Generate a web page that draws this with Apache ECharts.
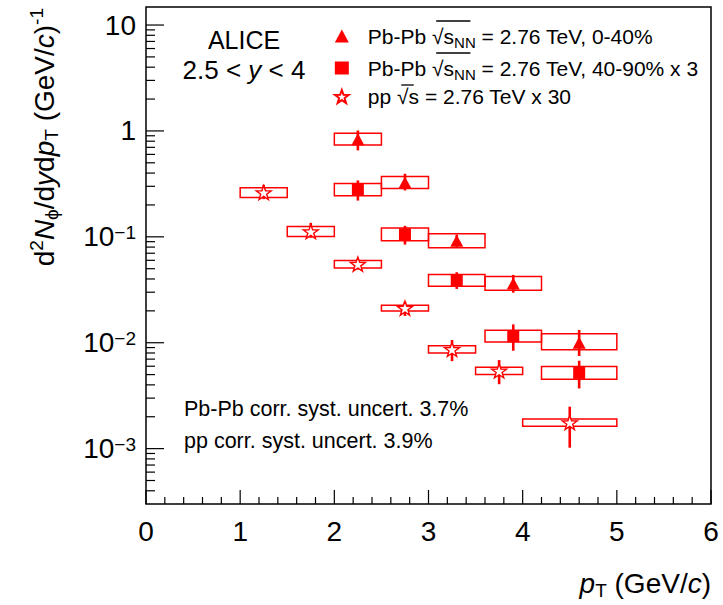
<!DOCTYPE html>
<html><head><meta charset="utf-8">
<script src="https://cdn.jsdelivr.net/npm/echarts/dist/echarts.min.js"></script>
<style>html,body{margin:0;padding:0;background:#fff}#c{width:723px;height:605px}</style>
</head><body><div id="c"></div>
<script>
// ---------------- data ----------------
// Pb-Pb pT bins
const pbX     = [2.25, 2.75, 3.3, 3.9, 4.6];
const pbBinLo = [2.0, 2.5, 3.0, 3.6, 4.2];
const pbBinHi = [2.5, 3.0, 3.6, 4.2, 5.0];
// Pb-Pb 0-40%
const cenVal    = [0.836, 0.326, 0.0917, 0.0363, 0.0100];
const cenStatLo = [0.655, 0.274, 0.0785, 0.0297, 0.0075];
const cenStatHi = [1.01, 0.394, 0.105, 0.0437, 0.0132];
const cenSysLo  = [0.737, 0.286, 0.0787, 0.0313, 0.00859];
const cenSysHi  = [0.95, 0.372, 0.107, 0.0421, 0.01217];
// Pb-Pb 40-90% x 3
const perVal    = [0.28, 0.1057, 0.0388, 0.0115, 0.00519];
const perStatLo = [0.22, 0.0845, 0.0322, 0.0084, 0.0037];
const perStatHi = [0.341, 0.127, 0.0463, 0.0149, 0.00676];
const perSysLo  = [0.244, 0.0917, 0.0342, 0.01016, 0.00451];
const perSysHi  = [0.319, 0.121, 0.044, 0.01312, 0.00598];
// pp x 30
const ppX     = [1.25, 1.75, 2.25, 2.75, 3.25, 3.75, 4.5];
const ppBinLo = [1.0, 1.5, 2.0, 2.5, 3.0, 3.5, 4.0];
const ppBinHi = [1.5, 2.0, 2.5, 3.0, 3.5, 4.0, 5.0];
const ppVal    = [0.262, 0.112, 0.0552, 0.0212, 0.00865, 0.00542, 0.00176];
const ppStatLo = [0.227, 0.098, 0.049, 0.0179, 0.0067, 0.00406, 0.00102];
const ppStatHi = [0.31, 0.1355, 0.062, 0.0244, 0.0106, 0.00686, 0.00249];
const ppSysLo  = [0.235, 0.1007, 0.0509, 0.01995, 0.008, 0.00501, 0.00163];
const ppSysHi  = [0.291, 0.125, 0.0597, 0.0226, 0.00937, 0.00587, 0.0019];
// axes
const X_MIN = 0, X_MAX = 6, Y_MIN = 3.0e-4, Y_MAX = 14.8;
const xMajorTicks = [0, 1, 2, 3, 4, 5, 6];
const xMinorTicks = [0.2,0.4,0.6,0.8,1.2,1.4,1.6,1.8,2.2,2.4,2.6,2.8,3.2,3.4,3.6,3.8,4.2,4.4,4.6,4.8,5.2,5.4,5.6,5.8];
const yMajorTicks = [0.001, 0.01, 0.1, 1, 10];
const yMinorTicks = [4e-4,5e-4,6e-4,7e-4,8e-4,9e-4,
  0.002,0.003,0.004,0.005,0.006,0.007,0.008,0.009,
  0.02,0.03,0.04,0.05,0.06,0.07,0.08,0.09,
  0.2,0.3,0.4,0.5,0.6,0.7,0.8,0.9,
  2,3,4,5,6,7,8,9];
const seriesNames = ['cen', 'per', 'pp'];
const legendPrefix = { cen: 'Pb-Pb ', per: 'Pb-Pb ', pp: 'pp ' };
const legendSub    = { cen: 'NN', per: 'NN', pp: '' };
const legendSuffix = { cen: ' = 2.76 TeV, 0-40%', per: ' = 2.76 TeV, 40-90% x 3', pp: ' = 2.76 TeV x 30' };

// ---------------- helpers ----------------
const FONT = '"Liberation Sans", Arial, Helvetica, sans-serif';
const RED = '#ff0000';
const STAR = 'path://M50,0 L61.8,33.8 L97.6,34.5 L69,56.2 L79.4,90.5 L50,70 L20.6,90.5 L31,56.2 L2.4,34.5 L38.2,33.8 Z';
const LEG_FS = 21, LEG_SUB_FS = 15, LEG_LEFT = 329, LEG_TOP = 17, LEG_ROW = 28, LEG_GAP = 4, LEG_ICON = 14, LEG_PAD = 14;

function legendLabel(name) {
  let s = '{t|' + legendPrefix[name] + '}{t|√}{t|s}';
  if (legendSub[name]) s += '{n|' + legendSub[name] + '}';
  return s + '{t|' + legendSuffix[name] + '}';
}
const measureCtx = document.createElement('canvas').getContext('2d');
function tw(txt, size) { measureCtx.font = size + 'px "Liberation Sans"'; return measureCtx.measureText(txt).width; }

function boxData(lo, hi, sLo, sHi) { return lo.map((v, i) => [v, hi[i], sLo[i], sHi[i]]); }
function errData(x, lo, hi) { return x.map((v, i) => [v, lo[i], hi[i]]); }
function ptData(x, y) { return x.map((v, i) => [v, y[i]]); }

function boxItem(params, api) {
  const p1 = api.coord([api.value(0), api.value(3)]);
  const p2 = api.coord([api.value(1), api.value(2)]);
  return { type: 'rect', shape: { x: p1[0], y: p1[1], width: p2[0] - p1[0], height: p2[1] - p1[1] },
           style: { fill: 'none', stroke: RED, lineWidth: 1.5 } };
}
function errItem(params, api) {
  const a = api.coord([api.value(0), api.value(1)]);
  const b = api.coord([api.value(0), api.value(2)]);
  return { type: 'line', shape: { x1: a[0], y1: a[1], x2: b[0], y2: b[1] },
           style: { stroke: RED, lineWidth: 2.6 } };
}
function xTickItem(len) {
  return function (params, api) {
    const p = api.coord([api.value(0), Y_MIN]);
    return { type: 'line', shape: { x1: p[0], y1: p[1], x2: p[0], y2: p[1] - len }, style: { stroke: '#000', lineWidth: 1.2 } };
  };
}
function yTickItem(len) {
  return function (params, api) {
    const p = api.coord([X_MIN, api.value(1)]);
    return { type: 'line', shape: { x1: p[0], y1: p[1], x2: p[0] + len, y2: p[1] }, style: { stroke: '#000', lineWidth: 1.2 } };
  };
}
function custom(name, data, renderItem, encode, z) {
  return { type: 'custom', name: name, data: data, renderItem: renderItem, encode: encode, z: z, silent: true, clip: false };
}

// overlines of the square roots in the legend
const overlines = seriesNames.map(function (name, i) {
  const cy = LEG_TOP + LEG_ROW / 2 + i * (LEG_ROW + LEG_GAP);
  const x0 = LEG_LEFT + LEG_ICON + 5 + LEG_PAD + tw(legendPrefix[name], LEG_FS) + tw('√', LEG_FS);
  const x2 = x0 + tw('s', LEG_FS) + (legendSub[name] ? tw(legendSub[name], LEG_SUB_FS) : 0) + 0.5;
  return { type: 'line', shape: { x1: x0 - 1.5, y1: cy - 10, x2: x2, y2: cy - 10 }, style: { stroke: '#000', lineWidth: 1.3 }, z: 10 };
});

const chart = echarts.init(document.getElementById('c'), null, { renderer: 'svg' });

const option = {
  backgroundColor: '#fff',
  animation: false,
  textStyle: { fontFamily: FONT },
  grid: { left: 146, top: 7, width: 565, height: 497, show: true, borderColor: '#000', borderWidth: 1.5,
          backgroundColor: 'transparent', containLabel: false, outerBoundsMode: 'none' },
  xAxis: {
    type: 'value', min: X_MIN, max: X_MAX, interval: 1,
    axisLine: { show: false }, axisTick: { show: false }, splitLine: { show: false },
    axisLabel: { fontSize: 28, color: '#000', margin: 13, fontFamily: FONT }
  },
  yAxis: {
    type: 'log', logBase: 10, min: Y_MIN, max: Y_MAX,
    axisLine: { show: false }, axisTick: { show: false }, splitLine: { show: false }, minorTick: { show: false },
    axisLabel: {
      showMinLabel: false, showMaxLabel: false, margin: 10, color: '#000', fontFamily: FONT,
      formatter: function (v) {
        const l = Math.log10(v), e = Math.round(l);
        if (Math.abs(l - e) > 1e-6) return '';
        if (e === 0) return '{p|1}';
        if (e === 1) return '{p|10}';
        return '{b|10}{e|−' + (-e) + '}';
      },
      rich: {
        p: { fontSize: 28, lineHeight: 28, fontFamily: FONT, color: '#000' },
        b: { fontSize: 28, lineHeight: 28, padding: [5, 0, 0, 0], verticalAlign: 'bottom', fontFamily: FONT, color: '#000' },
        e: { fontSize: 19, lineHeight: 20, verticalAlign: 'top', fontFamily: FONT, color: '#000' }
      }
    }
  },
  legend: {
    orient: 'vertical', left: LEG_LEFT, top: LEG_TOP, itemGap: LEG_GAP, itemWidth: LEG_ICON, itemHeight: 13,
    selectedMode: false, data: seriesNames,
    formatter: legendLabel,
    textStyle: {
      fontFamily: FONT, fontSize: LEG_FS, color: '#000', padding: [0, 0, 0, LEG_PAD],
      rich: {
        t: { fontSize: LEG_FS, lineHeight: LEG_ROW, fontFamily: FONT, color: '#000' },
        n: { fontSize: LEG_SUB_FS, lineHeight: LEG_SUB_FS, padding: [LEG_ROW - LEG_SUB_FS, 0, 0, 0], fontFamily: FONT, color: '#000' }
      }
    }
  },
  series: [
    custom('xMajor', xMajorTicks.map(v => [v, Y_MIN]), xTickItem(14), { x: 0, y: 1 }, 1),
    custom('xMinor', xMinorTicks.map(v => [v, Y_MIN]), xTickItem(7), { x: 0, y: 1 }, 1),
    custom('yMajor', yMajorTicks.map(v => [X_MIN, v]), yTickItem(18), { x: 0, y: 1 }, 1),
    custom('yMinor', yMinorTicks.map(v => [X_MIN, v]), yTickItem(9), { x: 0, y: 1 }, 1),
    custom('cenSys', boxData(pbBinLo, pbBinHi, cenSysLo, cenSysHi), boxItem, { x: [0, 1], y: [2, 3] }, 2),
    custom('perSys', boxData(pbBinLo, pbBinHi, perSysLo, perSysHi), boxItem, { x: [0, 1], y: [2, 3] }, 2),
    custom('ppSys', boxData(ppBinLo, ppBinHi, ppSysLo, ppSysHi), boxItem, { x: [0, 1], y: [2, 3] }, 2),
    custom('cenStat', errData(pbX, cenStatLo, cenStatHi), errItem, { x: 0, y: [1, 2] }, 3),
    custom('perStat', errData(pbX, perStatLo, perStatHi), errItem, { x: 0, y: [1, 2] }, 3),
    custom('ppStat', errData(ppX, ppStatLo, ppStatHi), errItem, { x: 0, y: [1, 2] }, 3),
    { type: 'scatter', name: 'cen', data: ptData(pbX, cenVal), symbol: 'triangle', symbolSize: [13, 12],
      itemStyle: { color: RED, opacity: 1 }, z: 4, silent: true },
    { type: 'scatter', name: 'per', data: ptData(pbX, perVal), symbol: 'rect', symbolSize: 12,
      itemStyle: { color: RED, opacity: 1 }, z: 4, silent: true },
    { type: 'scatter', name: 'pp', data: ptData(ppX, ppVal), symbol: STAR, symbolSize: [15, 14],
      itemStyle: { color: '#fff', borderColor: RED, borderWidth: 1.4, opacity: 1 }, z: 4, silent: true }
  ],
  graphic: overlines.concat([
    { type: 'text', x: 244, y: 40, style: { text: 'ALICE', fontSize: 25, fontFamily: FONT, fill: '#000', align: 'center', verticalAlign: 'middle' } },
    { type: 'text', x: 244, y: 70, style: { text: '{a|2.5 < }{i|y}{a| < 4}', align: 'center', verticalAlign: 'middle', fill: '#000',
        rich: { a: { fontSize: 26, fontFamily: FONT, fill: '#000' }, i: { fontSize: 26, fontFamily: FONT, fontStyle: 'italic', fill: '#000' } } } },
    { type: 'text', x: 184, y: 409, style: { text: 'Pb-Pb corr. syst. uncert. 3.7%', fontSize: 21.5, fontFamily: FONT, fill: '#000', align: 'left', verticalAlign: 'middle' } },
    { type: 'text', x: 184, y: 441, style: { text: 'pp corr. syst. uncert. 3.9%', fontSize: 21.5, fontFamily: FONT, fill: '#000', align: 'left', verticalAlign: 'middle' } },
    { type: 'text', x: 711, y: 583, style: { text: '{i|p}{s|T}{m| (GeV/}{i|c}{m|)}', align: 'right', verticalAlign: 'middle', fill: '#000',
        rich: {
          m: { fontSize: 28, lineHeight: 34, fontFamily: FONT, fill: '#000' },
          i: { fontSize: 28, lineHeight: 34, fontFamily: FONT, fontStyle: 'italic', fill: '#000' },
          s: { fontSize: 19, lineHeight: 19, verticalAlign: 'bottom', fontFamily: FONT, fill: '#000' }
        } } },
    { type: 'text', x: 44, y: 8, rotation: Math.PI / 2,
      style: { text: '{m|d}{sup|2}{i|N}{sub|ϕ}{m|/d}{i|y}{m|d}{i|p}{sub|T}{m| (GeV/}{i|c}{m|)}{sup|-1}', align: 'right', verticalAlign: 'middle', fill: '#000',
        rich: {
          m: { fontSize: 28, lineHeight: 34, fontFamily: FONT, fill: '#000' },
          i: { fontSize: 28, lineHeight: 34, fontFamily: FONT, fontStyle: 'italic', fill: '#000' },
          sup: { fontSize: 19, lineHeight: 19, verticalAlign: 'top', fontFamily: FONT, fill: '#000' },
          sub: { fontSize: 19, lineHeight: 19, verticalAlign: 'bottom', fontFamily: FONT, fill: '#000' }
        } } }
  ])
};
chart.setOption(option);
</script>
</body></html>
